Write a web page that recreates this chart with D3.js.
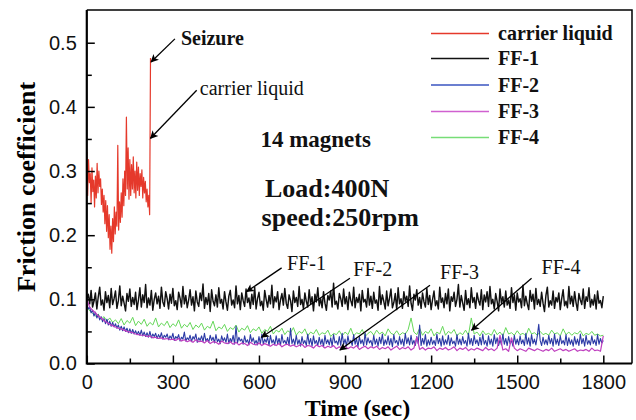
<!DOCTYPE html>
<html><head><meta charset="utf-8">
<script src="https://cdn.jsdelivr.net/npm/d3@7/dist/d3.min.js"></script>
<style>
html,body{margin:0;padding:0;background:#fff;}
svg{display:block;}
</style></head>
<body>
<svg id="chart" width="636" height="420"></svg>
<script>
// ---------- data ----------
const xTicks = [0, 300, 600, 900, 1200, 1500, 1800];
const yTicks = [0.0, 0.1, 0.2, 0.3, 0.4, 0.5];
const seriesNames = ["carrier liquid", "FF-1", "FF-2", "FF-3", "FF-4"];
const seriesColors = ["#e5392b", "#111111", "#2b3aa6", "#bf3fbf", "#66d85a"];
const legendColors = ["#e5392b", "#111111", "#3a55c0", "#d060d0", "#77dd77"];

// carrier liquid: sampled every 3 s from 0 to 222 s
const carrierStep = 3;
const carrierLiquid = [
.330,.262,.318,.282,.296,.250,.305,.268,.286,.244,
.292,.258,.312,.266,.300,.276,.288,.248,.272,.236,
.262,.218,.254,.206,.246,.196,.232,.178,.214,.172,
.226,.190,.244,.202,.236,.214,.340,.208,.252,.220,
.266,.228,.288,.246,.300,.262,.384,.272,.336,.256,
.318,.262,.310,.272,.322,.266,.300,.258,.314,.270,
.306,.262,.296,.276,.302,.258,.290,.266,.284,.252,
.272,.244,.262,.232,.476
];

// FF-1 and FF-2: sampled every 5 s from 0 to 1800 s
const denseStep = 5;
const ff1 = [
.100,.108,.093,.114,.088,.097,.110,.085,.104,.119,
.091,.099,.083,.112,.095,.106,.087,.117,.092,.101,
.113,.086,.098,.121,.090,.105,.094,.082,.109,.097,
.116,.089,.103,.092,.111,.084,.099,.118,.088,.107,
.095,.123,.087,.102,.091,.114,.083,.100,.110,.093,
.105,.086,.119,.096,.089,.112,.101,.085,.108,.094,
.117,.090,.098,.084,.111,.102,.088,.120,.093,.106,
.087,.099,.115,.091,.104,.082,.113,.096,.089,.110,
.098,.124,.086,.103,.092,.109,.081,.115,.097,.090,
.107,.088,.118,.094,.100,.085,.112,.096,.083,.105,
.114,.091,.099,.087,.121,.093,.106,.084,.110,.098,
.089,.116,.095,.102,.086,.108,.092,.119,.085,.101,
.111,.090,.097,.083,.114,.100,.088,.106,.093,.122,
.087,.104,.096,.112,.084,.099,.109,.091,.117,.094,
.086,.107,.098,.081,.113,.095,.103,.089,.120,.092,
.100,.085,.110,.097,.088,.115,.093,.104,.082,.108,
.096,.118,.090,.101,.087,.112,.094,.083,.106,.099,
.113,.088,.125,.092,.097,.085,.109,.101,.089,.116,
.093,.104,.084,.111,.098,.090,.119,.087,.103,.095,
.108,.082,.114,.096,.100,.088,.117,.091,.105,.086,
.111,.094,.099,.083,.120,.092,.107,.097,.085,.113,
.090,.102,.116,.087,.095,.109,.084,.118,.093,.101,
.086,.112,.097,.105,.089,.121,.094,.083,.108,.099,
.115,.091,.103,.086,.110,.096,.088,.117,.092,.106,
.084,.100,.113,.090,.098,.085,.119,.095,.102,.087,
.109,.093,.116,.082,.104,.097,.111,.089,.100,.123,
.088,.106,.094,.083,.114,.092,.101,.087,.118,.095,
.103,.086,.110,.098,.091,.115,.084,.107,.096,.112,
.089,.120,.093,.100,.085,.109,.097,.082,.116,.094,
.104,.088,.113,.091,.099,.086,.118,.095,.107,.083,
.110,.096,.101,.087,.122,.090,.105,.093,.084,.114,
.097,.108,.085,.117,.092,.100,.089,.111,.094,.081,
.106,.119,.088,.098,.091,.113,.086,.103,.096,.110,
.084,.101,.115,.090,.097,.087,.120,.093,.105,.089,
.112,.095,.083,.109,.099,.092,.116,.086,.104,.097,
.118,.088,.100,.091,.107,.085,.113,.094,.098,.087,
.105
];
const ff2 = [
.093,.085,.088,.079,.083,.074,.080,.071,.076,.068,
.073,.065,.070,.062,.069,.060,.066,.058,.064,.057,
.062,.055,.060,.052,.058,.051,.057,.050,.055,.048,
.054,.047,.053,.046,.051,.045,.050,.044,.052,.043,
.049,.042,.048,.041,.050,.040,.046,.042,.047,.039,
.045,.040,.048,.038,.044,.041,.046,.037,.043,.039,
.047,.036,.042,.039,.045,.035,.041,.038,.049,.035,
.040,.037,.044,.034,.042,.038,.046,.033,.040,.036,
.043,.034,.047,.035,.039,.033,.044,.036,.041,.032,
.045,.034,.038,.031,.043,.035,.040,.033,.046,.031,
.039,.034,.044,.030,.058,.032,.041,.035,.038,.030,
.043,.033,.037,.029,.045,.034,.040,.031,.036,.029,
.042,.031,.046,.030,.038,.033,.041,.028,.044,.032,
.037,.029,.043,.031,.039,.028,.045,.032,.036,.030,
.041,.028,.055,.031,.038,.029,.044,.030,.037,.027,
.042,.031,.036,.028,.046,.030,.039,.027,.043,.031,
.036,.028,.041,.030,.038,.026,.044,.031,.037,.029,
.040,.027,.045,.032,.035,.029,.042,.028,.047,.030,
.038,.027,.043,.031,.036,.028,.045,.030,.039,.026,
.042,.031,.037,.028,.048,.029,.040,.032,.036,.027,
.044,.030,.038,.027,.041,.031,.046,.028,.037,.030,
.043,.029,.039,.026,.045,.032,.036,.028,.042,.030,
.038,.027,.047,.031,.040,.029,.044,.030,.036,.028,
.042,.031,.060,.028,.039,.030,.045,.027,.037,.029,
.041,.030,.036,.028,.046,.031,.039,.027,.043,.029,
.037,.030,.044,.028,.040,.031,.035,.027,.045,.030,
.038,.029,.042,.031,.036,.027,.047,.030,.039,.028,
.044,.031,.037,.028,.041,.029,.046,.030,.036,.027,
.043,.030,.038,.027,.045,.031,.040,.028,.037,.029,
.046,.030,.039,.028,.042,.031,.036,.027,.044,.030,
.038,.029,.043,.031,.037,.028,.047,.030,.040,.027,
.045,.031,.038,.029,.043,.061,.036,.028,.041,.030,
.037,.029,.044,.031,.039,.027,.046,.030,.038,.028,
.043,.031,.036,.029,.045,.028,.040,.030,.037,.027,
.042,.030,.038,.028,.046,.031,.039,.027,.044,.030,
.036,.029,.043,.031,.037,.028,.045,.030,.039,.032,
.036
];

// FF-3 and FF-4: sampled every 10 s from 0 to 1800 s
const ffStep = 10;
const ff3 = [
.100,.088,.083,.079,.074,.071,.067,.064,.061,.059,
.057,.055,.054,.052,.050,.049,.048,.046,.045,.044,
.044,.042,.043,.040,.041,.039,.040,.038,.039,.037,
.038,.036,.039,.035,.037,.034,.036,.033,.037,.034,
.035,.032,.036,.031,.034,.033,.030,.035,.032,.031,
.034,.030,.033,.029,.032,.031,.028,.033,.030,.029,
.032,.028,.031,.029,.027,.030,.028,.031,.026,.029,
.030,.027,.029,.026,.028,.030,.025,.028,.027,.024,
.029,.026,.028,.024,.027,.025,.028,.023,.026,.025,
.027,.023,.026,.024,.028,.022,.025,.027,.023,.026,
.024,.027,.022,.025,.023,.026,.021,.024,.027,.022,
.025,.023,.026,.021,.024,.041,.022,.025,.021,.024,
.023,.026,.020,.024,.022,.025,.021,.023,.026,.020,
.024,.022,.025,.020,.023,.021,.024,.022,.020,.025,
.021,.023,.020,.024,.044,.021,.023,.019,.040,.024,
.020,.023,.021,.019,.024,.022,.020,.023,.021,.019,
.022,.020,.024,.019,.021,.023,.020,.022,.019,.021,
.023,.019,.021,.020,.022,.019,.024,.020,.021,.019,
.043
];
const ff4 = [
.090,.082,.078,.074,.077,.069,.073,.066,.071,.064,
.068,.062,.070,.060,.067,.063,.072,.059,.066,.061,
.069,.058,.064,.060,.071,.057,.063,.059,.066,.056,
.062,.058,.068,.055,.061,.057,.064,.053,.060,.056,
.063,.052,.058,.055,.066,.051,.057,.054,.061,.050,
.056,.053,.060,.049,.055,.052,.059,.048,.054,.051,
.057,.047,.053,.050,.058,.046,.052,.049,.055,.045,
.051,.048,.056,.044,.050,.047,.054,.043,.049,.046,
.053,.044,.048,.046,.052,.042,.047,.045,.051,.043,
.049,.045,.055,.043,.048,.046,.053,.042,.047,.050,
.044,.052,.046,.049,.043,.054,.047,.045,.051,.044,
.048,.046,.053,.071,.049,.045,.055,.044,.050,.047,
.054,.043,.049,.046,.058,.044,.050,.047,.053,.043,
.048,.045,.052,.044,.071,.046,.049,.043,.051,.045,
.047,.044,.053,.045,.049,.043,.056,.046,.048,.044,
.051,.045,.047,.043,.055,.046,.048,.044,.050,.045,
.047,.044,.052,.046,.048,.043,.054,.045,.049,.044,
.048,.046,.051,.043,.047,.045,.050,.044,.046,.043,
.044
];

// annotations: [text, tx, ty, fromX, fromY, toX, toY, bold] in data units
const arrowNotes = [
  ["Seizure",        328, 0.496, 307, 0.506, 224, 0.470, true],
  ["carrier liquid", 394, 0.418, 383, 0.426, 222, 0.351, false],
  ["FF-1",           698, 0.145, 679, 0.149, 557, 0.112, false],
  ["FF-2",           929, 0.136, 917, 0.133, 609, 0.041, false],
  ["FF-3",          1231, 0.132,1196, 0.122, 882, 0.021, false],
  ["FF-4",          1585, 0.139,1550, 0.133,1341, 0.052, false]
];
const textNotes = [
  ["14 magnets",   605, 0.337, 23],
  ["Load:400N",    621, 0.259, 26],
  ["speed:250rpm", 609, 0.214, 26]
];

// ---------- chart ----------
const svg = d3.select("#chart");
const L = 86.8, R = 632, T = 10, B = 363.5;
const x = d3.scaleLinear().domain([0, 1900]).range([L, R]);
const y = d3.scaleLinear().domain([0, 0.551]).range([B, T]);

const serif = "'Liberation Serif','Times New Roman',serif";
const sans = "'Liberation Sans',Arial,sans-serif";

// data lines
const line = d3.line().x(d => x(d[0])).y(d => y(d[1]));
const mk = (arr, step) => arr.map((v, i) => [i * step, v]);
const drawOrder = [
  [carrierLiquid, carrierStep, 0, 1.2],
  [ff1, denseStep, 1, 1.45],
  [ff4, ffStep, 4, 1.0],
  [ff2, denseStep, 2, 1.1],
  [ff3, ffStep, 3, 1.2]
];
drawOrder.forEach(([arr, step, ci, w]) => {
  svg.append("path").datum(mk(arr, step))
    .attr("d", line).attr("fill", "none")
    .attr("stroke", seriesColors[ci]).attr("stroke-width", w)
    .attr("stroke-linejoin", "round");
});

// axes
const yMinor = d3.range(0.05, 0.55, 0.1);
const xMinor = d3.range(150, 1900, 300);
const gy = svg.append("g").attr("transform", `translate(${L},0)`)
  .call(d3.axisLeft(y).tickValues(yTicks).tickSize(-8).tickPadding(10).tickFormat(d3.format(".1f")));
const gy2 = svg.append("g").attr("transform", `translate(${L},0)`)
  .call(d3.axisLeft(y).tickValues(yMinor).tickSize(-5).tickFormat(""));
const gx = svg.append("g").attr("transform", `translate(0,${B})`)
  .call(d3.axisBottom(x).tickValues(xTicks).tickSize(-8).tickPadding(11).tickFormat(d3.format("d")));
const gx2 = svg.append("g").attr("transform", `translate(0,${B})`)
  .call(d3.axisBottom(x).tickValues(xMinor).tickSize(-5).tickFormat(""));
[gy, gy2, gx, gx2].forEach(g => {
  g.select(".domain").remove();
  g.selectAll(".tick line").attr("stroke", "#000").attr("stroke-width", 1.5);
  g.selectAll(".tick text").attr("font-family", sans).attr("font-size", 20).attr("fill", "#111");
});

// frame
svg.append("path").attr("d", `M${L},${T}H${R}V${B}`).attr("fill", "none")
  .attr("stroke", "#000").attr("stroke-width", 1.5);
svg.append("path").attr("d", `M${L},${T}V${B}H${R}`).attr("fill", "none")
  .attr("stroke", "#000").attr("stroke-width", 2.2);

// axis titles
svg.append("text").attr("x", (L + R) / 2 - 2).attr("y", 416).attr("text-anchor", "middle")
  .attr("font-family", serif).attr("font-weight", "bold").attr("font-size", 24)
  .text("Time (sec)");
svg.append("text").attr("transform", "translate(35,187) rotate(-90)").attr("text-anchor", "middle")
  .attr("font-family", serif).attr("font-weight", "bold").attr("font-size", 26)
  .text("Friction coefficient");

// legend
const lg = svg.append("g");
seriesNames.forEach((n, i) => {
  const ly = [33.5, 58.5, 85, 111.5, 137.5][i];
  lg.append("line").attr("x1", 431).attr("x2", 489).attr("y1", ly).attr("y2", ly)
    .attr("stroke", legendColors[i]).attr("stroke-width", 1.3);
  lg.append("text").attr("x", 498).attr("y", ly + 6.5)
    .attr("font-family", serif).attr("font-weight", "bold").attr("font-size", 20)
    .attr("fill", "#111").text(n);
});

// arrow marker
svg.append("defs").append("marker").attr("id", "ah")
  .attr("viewBox", "0 0 10 10").attr("refX", 9).attr("refY", 5)
  .attr("markerWidth", 10).attr("markerHeight", 8).attr("markerUnits", "userSpaceOnUse")
  .attr("orient", "auto")
  .append("path").attr("d", "M0,0L10,5L0,10L2.5,5Z").attr("fill", "#000");

arrowNotes.forEach(([t, tx, ty, fx, fy, ax, ay, bold]) => {
  svg.append("line").attr("x1", x(fx)).attr("y1", y(fy)).attr("x2", x(ax)).attr("y2", y(ay))
    .attr("stroke", "#000").attr("stroke-width", 1.3).attr("marker-end", "url(#ah)");
  svg.append("text").attr("x", x(tx)).attr("y", y(ty))
    .attr("font-family", serif).attr("font-weight", bold ? "bold" : "normal")
    .attr("font-size", 20).attr("fill", "#111").text(t);
});
textNotes.forEach(([t, tx, ty, fs]) => {
  svg.append("text").attr("x", x(tx)).attr("y", y(ty))
    .attr("font-family", serif).attr("font-weight", "bold")
    .attr("font-size", fs).attr("fill", "#111").text(t);
});
</script>
</body></html>
